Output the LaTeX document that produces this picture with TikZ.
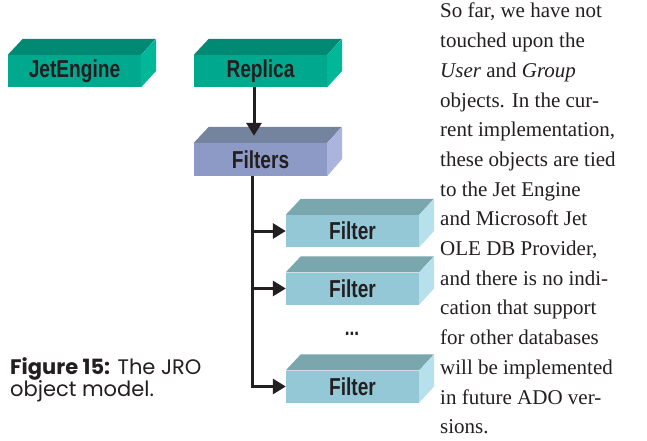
\documentclass[tikz,border=0pt]{standalone}
\usepackage{fontspec}
\usetikzlibrary{arrows.meta}
\setmainfont{Liberation Serif}
\newfontfamily\condbold[FakeStretch=0.78]{Liberation Sans Bold}
\newfontfamily\capfont{Poppins}
\definecolor{ink}{HTML}{231F20}
\definecolor{tealF}{HTML}{00A88E}
\definecolor{tealT}{HTML}{008A74}
\definecolor{tealS}{HTML}{00B898}
\definecolor{violF}{HTML}{8D9AC6}
\definecolor{violT}{HTML}{74849E}
\definecolor{violS}{HTML}{AAB4DC}
\definecolor{cyanF}{HTML}{94C8D6}
\definecolor{cyanT}{HTML}{7AA6AE}
\definecolor{cyanS}{HTML}{B6E0EC}
\tikzset{
  front/.style={rectangle, inner sep=0pt, minimum width=133pt, minimum height=32pt,
    font=\condbold\fontsize{24.5}{24}\selectfont, text=ink},
  conn/.style={draw=ink, line width=3pt},
  arr/.style={conn, -{Triangle[length=13pt,width=15pt]}},
}
% #1 node name, #2 top colour, #3 side colour
\newcommand{\boxfaces}[3]{%
  \fill[#2] (#1.north west) -- ++(15,-16) -- ++(133,0) -- (#1.north east) -- cycle;
  \fill[#3] (#1.north east) -- ++(15,-16) -- ++(0,32) -- (#1.south east) -- cycle;
}
\begin{document}
\begin{tikzpicture}[x=1pt,y=-1pt]
\useasboundingbox (0,0) rectangle (647,441);
\fill[white] (0,0) rectangle (647,441);

\node[front, fill=tealF] (jet) at (74.5,71) {JetEngine};
\node[front, fill=tealF] (replica) at (260.5,71) {Replica};
\node[front, fill=violF, minimum height=33pt] (filters) at (260.5,159.5) {Filters};
\node[front, fill=cyanF] (f1) at (352.5,231) {Filter};
\node[front, fill=cyanF] (f2) at (352.5,288.5) {Filter};
\node[front, fill=cyanF] (f3) at (352.5,386.5) {Filter};
\node[font=\condbold\fontsize{22}{22}\selectfont, text=ink] (dots) at (352,334) {...};

\boxfaces{jet}{tealT}{tealS}
\boxfaces{replica}{tealT}{tealS}
\boxfaces{filters}{violT}{violS}
\boxfaces{f1}{cyanT}{cyanS}
\boxfaces{f2}{cyanT}{cyanS}
\boxfaces{f3}{cyanT}{cyanS}

\coordinate (bus) at (252,0);
\draw[arr] ([xshift=-6.5pt]replica.south) -- ([xshift=-6.5pt,yshift=7pt]filters.north);
\draw[arr] (filters.south -| bus) |- (f3.west);
\draw[arr] (f1.west -| bus) -- (f1.west);
\draw[arr] (f2.west -| bus) -- (f2.west);

\node[anchor=north west, align=left, inner sep=0pt, text=ink,
  font=\capfont\fontsize{21}{19.5}\selectfont] (caption) at (10,357)
  {\textbf{Figure 15:} The JRO\\object model.};

\node[anchor=north west, align=left, inner sep=0pt, text=ink,
  font=\fontsize{21}{29.7}\selectfont] (body) at (440,3)
  {So far, we have not\\
   touched upon the\\
   \textit{User} and \textit{Group}\\
   objects. In the cur-\\
   rent implementation,\\
   these objects are tied\\
   to the Jet Engine\\
   and Microsoft Jet\\
   OLE DB Provider,\\
   and there is no indi-\\
   cation that support\\
   for other databases\\
   will be implemented\\
   in future ADO ver-\\
   sions.};
\end{tikzpicture}
\end{document}
